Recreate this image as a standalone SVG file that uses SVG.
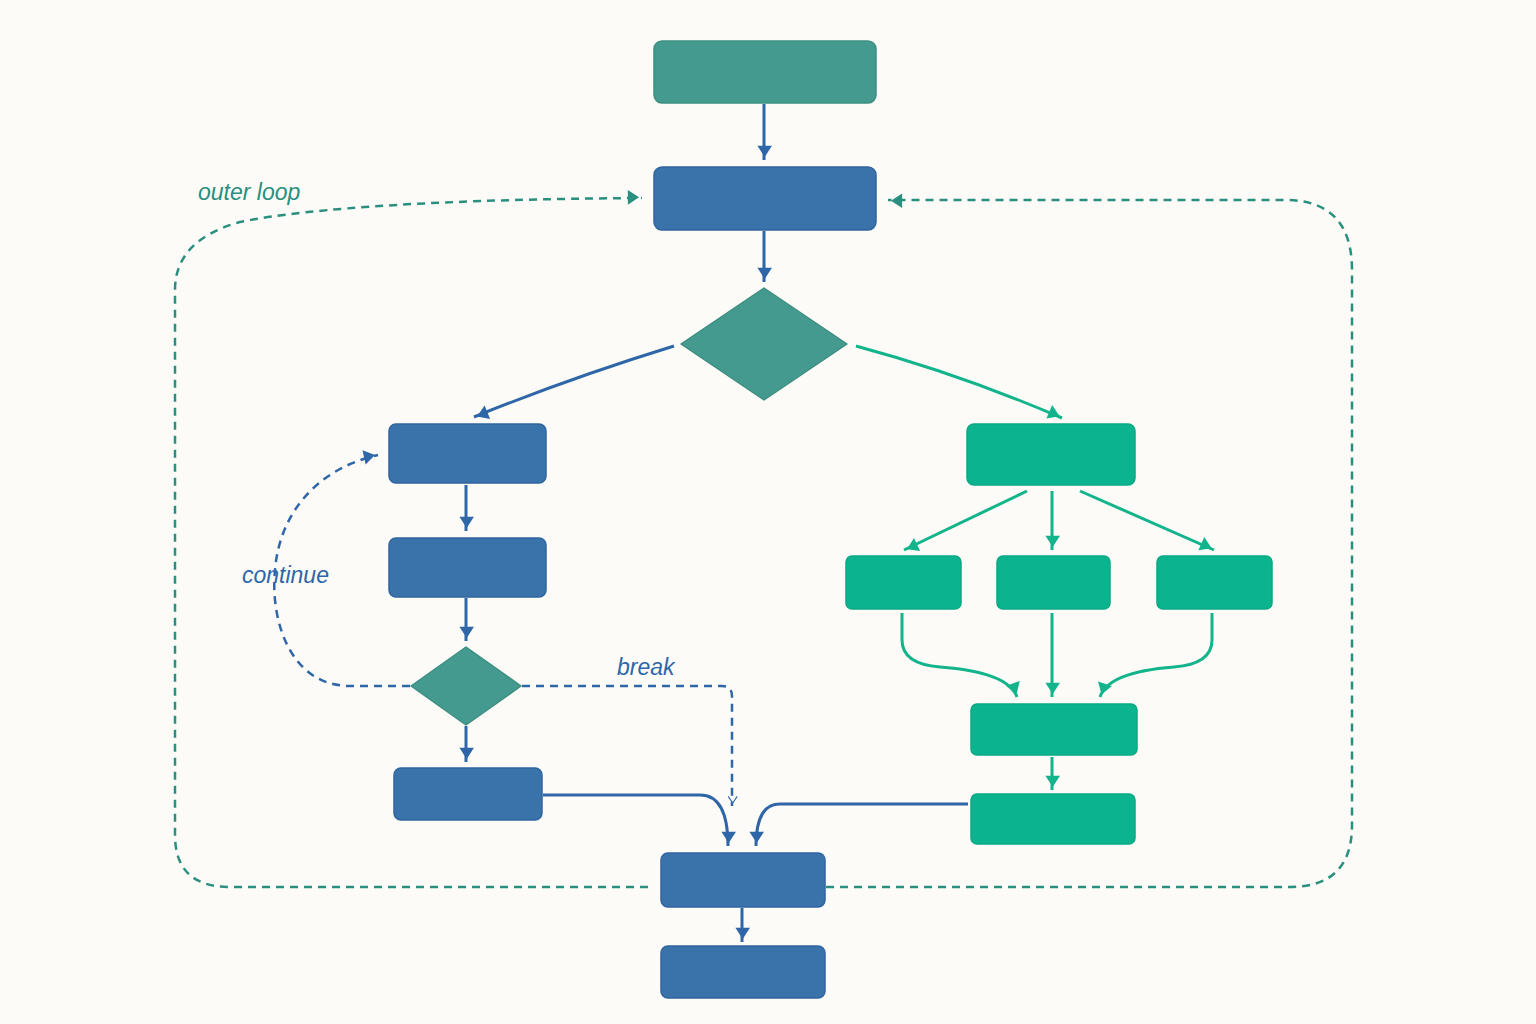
<svg xmlns="http://www.w3.org/2000/svg" width="1536" height="1024" viewBox="0 0 1536 1024">
<defs>
<style>
.b{fill:#3a73aa;stroke:#2f66a0;stroke-width:1.5}
.t{fill:#449a8e;stroke:#3d8f83;stroke-width:1.5}
.g{fill:#0bb48e;stroke:#0aa985;stroke-width:1.5}
.eb{fill:none;stroke:#2f66a8;stroke-width:3}
.eg{fill:none;stroke:#13b48c;stroke-width:3}
.db{fill:none;stroke:#2f66a8;stroke-width:2.5;stroke-dasharray:8 6}
.dt{fill:none;stroke:#2a8f7e;stroke-width:2.5;stroke-dasharray:8 6}
.lbl{font-family:"Liberation Sans",Arial,sans-serif;font-style:italic;font-size:23px}
</style>
<marker id="ab" viewBox="0 0 10 10" refX="9" refY="5" markerWidth="7" markerHeight="7" orient="auto" markerUnits="userSpaceOnUse" overflow="visible"><path d="M-14,-8 L6,5 L-14,18 Z" fill="#2f66a8" transform="scale(0.8)"/></marker>
<marker id="ag" viewBox="0 0 10 10" refX="9" refY="5" markerWidth="7" markerHeight="7" orient="auto" markerUnits="userSpaceOnUse" overflow="visible"><path d="M-14,-8 L6,5 L-14,18 Z" fill="#13b48c" transform="scale(0.8)"/></marker>
<marker id="at" viewBox="0 0 10 10" refX="9" refY="5" markerWidth="7" markerHeight="7" orient="auto" markerUnits="userSpaceOnUse" overflow="visible"><path d="M-14,-8 L6,5 L-14,18 Z" fill="#2a8f7e" transform="scale(0.8)"/></marker>
<marker id="ao" viewBox="0 0 10 10" refX="9" refY="5" markerWidth="7" markerHeight="7" orient="auto" markerUnits="userSpaceOnUse" overflow="visible"><path d="M-6,-3 L6,5 L-6,13" fill="none" stroke="#2f66a8" stroke-width="2" transform="scale(0.8)"/></marker>
</defs>
<rect width="1536" height="1024" fill="#fcfbf7"/>
<g id="connectors">
<path class="eb" d="M764,104 L764,160" marker-end="url(#ab)"/>
<path class="eb" d="M764,231 L764,282" marker-end="url(#ab)"/>
<path class="eb" d="M674,346 Q570,378 474,417" marker-end="url(#ab)"/>
<path class="eg" d="M856,346 Q960,374 1062,418" marker-end="url(#ag)"/>
<path class="eb" d="M466,485 L466,531" marker-end="url(#ab)"/>
<path class="eb" d="M466,598 L466,641" marker-end="url(#ab)"/>
<path class="eb" d="M466,726 L466,762" marker-end="url(#ab)"/>
<path class="db" d="M410,686 L350,686 C290,686 270,620 275,570 C280,510 320,468 378,455" marker-end="url(#ab)"/>
<path class="db" d="M522,686 L722,686 Q732,686 732,696 L732,806" marker-end="url(#ao)"/>
<path class="eb" d="M543,795 L700,795 Q728,795 728,846" marker-end="url(#ab)"/>
<path class="eb" d="M968,804 L780,804 Q756,804 756,846" marker-end="url(#ab)"/>
<path class="eg" d="M1027,491 L904,550" marker-end="url(#ag)"/>
<path class="eg" d="M1052,491 L1052,550" marker-end="url(#ag)"/>
<path class="eg" d="M1080,491 L1214,550" marker-end="url(#ag)"/>
<path class="eg" d="M902,613 L902,640 Q902,664 940,667 Q1008,672 1017,697" marker-end="url(#ag)"/>
<path class="eg" d="M1052,613 L1052,697" marker-end="url(#ag)"/>
<path class="eg" d="M1212,613 L1212,640 Q1212,664 1174,667 Q1108,672 1100,697" marker-end="url(#ag)"/>
<path class="eg" d="M1052,757 L1052,790" marker-end="url(#ag)"/>
<path class="eb" d="M742,908 L742,942" marker-end="url(#ab)"/>
<path class="dt" d="M648,887 L230,887 Q175,887 175,835 L175,290 Q175,240 240,222 Q350,200 642,198" marker-end="url(#at)"/>
<path class="dt" d="M826,887 L1290,887 Q1352,887 1352,825 L1352,270 Q1352,200 1285,200 L888,200" marker-end="url(#at)"/>
</g>
<g id="labels">
<text class="lbl" x="198" y="200" fill="#2a8f7e">outer loop</text>
<text class="lbl" x="242" y="583" fill="#2f66a8">continue</text>
<text class="lbl" x="617" y="675" fill="#2f66a8">break</text>
</g>
<g id="n1"><rect class="t" x="654" y="41" width="222" height="62" rx="8"/></g>
<g id="n2"><rect class="b" x="654" y="167" width="222" height="63" rx="8"/></g>
<g id="d1"><path class="t" d="M764,288 L847,344 L764,400 L681,344 Z" stroke-linejoin="round"/></g>
<g id="l1"><rect class="b" x="389" y="424" width="157" height="59" rx="7"/></g>
<g id="l2"><rect class="b" x="389" y="538" width="157" height="59" rx="7"/></g>
<g id="d2"><path class="t" d="M466,647 L521,686 L466,725 L411,686 Z" stroke-linejoin="round"/></g>
<g id="l3"><rect class="b" x="394" y="768" width="148" height="52" rx="7"/></g>
<g id="r1"><rect class="g" x="967" y="424" width="168" height="61" rx="7"/></g>
<g id="r2a"><rect class="g" x="846" y="556" width="115" height="53" rx="6"/></g>
<g id="r2b"><rect class="g" x="997" y="556" width="113" height="53" rx="6"/></g>
<g id="r2c"><rect class="g" x="1157" y="556" width="115" height="53" rx="6"/></g>
<g id="r3"><rect class="g" x="971" y="704" width="166" height="51" rx="6"/></g>
<g id="r4"><rect class="g" x="971" y="794" width="164" height="50" rx="6"/></g>
<g id="b1"><rect class="b" x="661" y="853" width="164" height="54" rx="7"/></g>
<g id="b2"><rect class="b" x="661" y="946" width="164" height="52" rx="7"/></g>
</svg>
